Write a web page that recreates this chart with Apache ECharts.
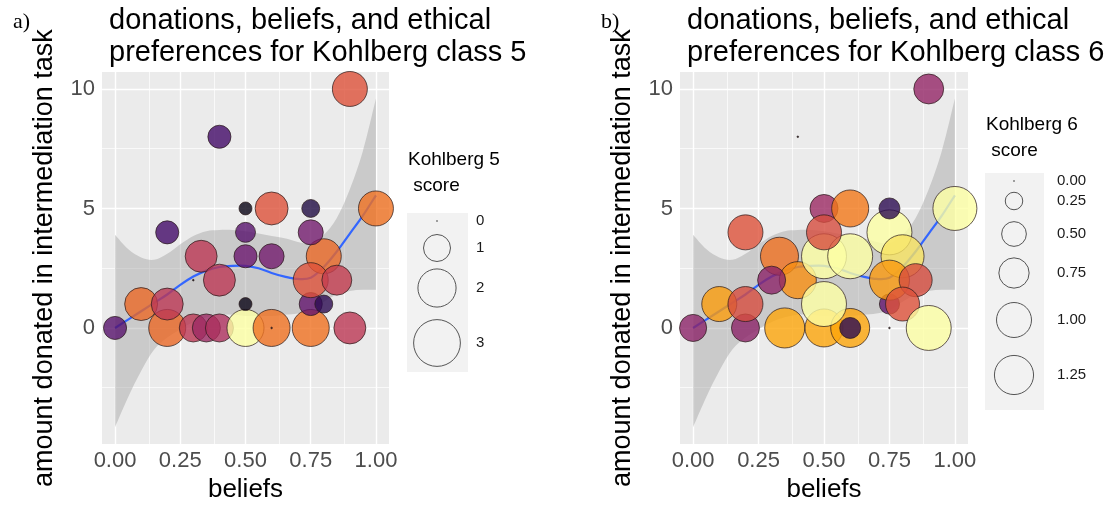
<!DOCTYPE html>
<html>
<head>
<meta charset="utf-8">
<script src="https://cdn.jsdelivr.net/npm/echarts@6/dist/echarts.min.js"></script>
<style>
  html, body { margin: 0; padding: 0; background: #fff; }
  #chart { width: 1114px; height: 508px; }
</style>
</head>
<body>
<div id="chart"></div>
<script>
// ---- data ----
// loess fit of donation on belief, with its confidence band (same in both panels)
var fitX   = [0, 0.05, 0.1, 0.15, 0.2, 0.25, 0.3, 0.35, 0.4, 0.45, 0.5, 0.55, 0.6, 0.65, 0.7, 0.75, 0.8, 0.85, 0.9, 0.95, 1.0];
var fitY   = [0, 0.35, 0.7, 1.05, 1.4, 1.8, 2.15, 2.4, 2.55, 2.6, 2.6, 2.5, 2.3, 2.15, 2.05, 2.1, 2.55, 3.2, 3.95, 4.7, 5.55];
var bandLo = [-4.15, -2.9, -1.8, -0.9, -0.4, -0.05, 0.25, 0.45, 0.55, 0.55, 0.5, 0.5, 0.5, 0.55, 0.6, 0.75, 1.1, 1.4, 1.55, 1.6, 1.6];
var bandHi = [3.9, 3.3, 2.95, 2.85, 3.1, 3.5, 3.85, 4.05, 4.1, 4.1, 4.05, 3.95, 3.85, 3.75, 3.6, 3.55, 3.9, 4.6, 5.8, 7.4, 9.6];

// panel a: Kohlberg class 5
var beliefA   = [0, 0.1, 0.2, 0.2, 0.2, 0.3, 0.35, 0.4, 0.3, 0.33, 0.4, 0.4, 0.5, 0.5, 0.5, 0.5, 0.5, 0.6, 0.6, 0.6, 0.6, 0.75, 0.75, 0.8, 0.8, 0.75, 0.85, 0.75, 0.75, 0.9, 0.9, 1.0];
var donatedA  = [0, 1, 0, 1, 4, 0, 0, 0, 2, 3, 2, 8, 0, 1, 3, 4, 5, 0, 0, 3, 5, 0, 1, 1, 3, 2, 2, 4, 5, 0, 10, 5];
var scoreA    = [0.73, 1.49, 1.88, 1.40, 0.73, 1.08, 1.08, 1.08, 0, 1.40, 1.40, 0.73, 1.88, 0.23, 0.73, 0.55, 0.23, 1.88, 0, 0.86, 1.49, 1.88, 0.73, 0.44, 1.68, 1.68, 1.23, 0.86, 0.44, 1.40, 1.68, 1.68];
var toneA     = [0.25, 0.66, 0.66, 0.5, 0.2, 0.5, 0.42, 0.46, 0, 0.5, 0.5, 0.2, 1.0, 0.03, 0.3, 0.25, 0.03, 0.68, 0.05, 0.32, 0.6, 0.68, 0.28, 0.15, 0.66, 0.6, 0.52, 0.32, 0.12, 0.5, 0.6, 0.68];

// panel b: Kohlberg class 6
var beliefB   = [0, 0.1, 0.2, 0.2, 0.2, 0.33, 0.4, 0.3, 0.35, 0.4, 0.5, 0.6, 0.6, 0.5, 0.5, 0.6, 0.5, 0.5, 0.6, 0.75, 0.75, 0.8, 0.75, 0.75, 0.85, 0.8, 0.75, 0.9, 0.9, 1.0];
var donatedB  = [0, 1, 0, 1, 4, 3, 2, 2, 0, 8, 0, 0, 0, 1, 3, 3, 5, 4, 5, 4, 5, 3, 1, 2, 2, 1, 0, 0, 10, 5];
var scoreB    = [0.6, 1.0, 0.64, 1.0, 1.0, 1.18, 1.12, 0.64, 1.31, 0, 1.18, 1.24, 0.36, 1.65, 1.65, 1.65, 0.64, 1.0, 1.12, 1.65, 0.36, 1.51, 0.33, 1.31, 0.89, 0.94, 0, 1.65, 0.73, 1.58];
var toneB     = [0.38, 0.78, 0.38, 0.58, 0.6, 0.68, 0.75, 0.38, 0.8, 0, 0.8, 0.8, 0.15, 1.0, 1.0, 1.0, 0.42, 0.58, 0.7, 1.0, 0.15, 0.93, 0.28, 0.77, 0.58, 0.6, 0, 1.0, 0.4, 1.0];

var beliefTicks = [0, 0.25, 0.5, 0.75, 1];
var beliefMinor = [0.125, 0.375, 0.625, 0.875];
var donatedTicks = [0, 5, 10];
var donatedMinor = [-2.5, 2.5, 7.5];
var legendA = [0, 1, 2, 3];
var legendB = [0, 0.25, 0.5, 0.75, 1.0, 1.25];

var inferno = ['#000004', '#160b39', '#420a68', '#6a176e', '#932667', '#bc3754',
               '#dd513a', '#f37819', '#fca50a', '#f6d746', '#fcffa4'];

var FONT = '"Liberation Sans", Arial, Helvetica, sans-serif';
var SERIF = '"Liberation Serif", "Times New Roman", serif';

// diameter scale per panel (px for a score of 1)
var sizeK = [27, 35];
function diam(k, v) { return v > 0 ? k * Math.sqrt(v) : 1.6; }

// layout
var grids = [
  { left: 102, top: 72, width: 287, height: 375 },
  { left: 680, top: 72, width: 288, height: 375 }
];

var myChart = echarts.init(document.getElementById('chart'), null, { renderer: 'canvas' });

function xAxisFor(i) {
  return {
    type: 'value', gridIndex: i, min: -0.05, max: 1.05,
    name: 'beliefs', nameLocation: 'middle', nameGap: 31,
    nameTextStyle: { fontSize: 26, color: '#000', fontFamily: FONT },
    axisLine: { show: false },
    axisTick: { show: true, customValues: beliefTicks, length: 4, lineStyle: { color: '#333', width: 1 } },
    axisLabel: { customValues: beliefTicks, formatter: function (v) { return v.toFixed(2); },
                 fontSize: 22, color: '#4d4d4d', margin: 6, fontFamily: FONT },
    splitLine: { show: false }
  };
}
function yAxisFor(i) {
  return {
    type: 'value', gridIndex: i, min: -4.86, max: 10.71,
    name: 'amount donated in intermediation task', nameLocation: 'middle', nameGap: 44,
    nameTextStyle: { fontSize: 27, color: '#000', fontFamily: FONT },
    axisLine: { show: false },
    axisTick: { show: true, customValues: donatedTicks, length: 4, lineStyle: { color: '#333', width: 1 } },
    axisLabel: { customValues: donatedTicks, fontSize: 22, color: '#4d4d4d', margin: 7, fontFamily: FONT },
    splitLine: { show: false }
  };
}

function gridLines(i) {
  var d = [];
  donatedTicks.forEach(function (v) { d.push({ yAxis: v, lineStyle: { color: '#fff', width: 1.4, type: 'solid' } }); });
  donatedMinor.forEach(function (v) { d.push({ yAxis: v, lineStyle: { color: '#fff', width: 0.7, type: 'solid' } }); });
  beliefTicks.forEach(function (v) { d.push({ xAxis: v, lineStyle: { color: '#fff', width: 1.4, type: 'solid' } }); });
  beliefMinor.forEach(function (v) { d.push({ xAxis: v, lineStyle: { color: '#fff', width: 0.7, type: 'solid' } }); });
  return {
    type: 'line', xAxisIndex: i, yAxisIndex: i, data: [], silent: true, z: 1,
    markLine: { silent: true, symbol: ['none', 'none'], label: { show: false }, animation: false,
                emphasis: { disabled: true }, data: d }
  };
}

// smooth path (Catmull-Rom as cubic beziers) through pixel points
function splineSeg(pts) {
  var s = '';
  for (var i = 0; i < pts.length - 1; i++) {
    var p0 = pts[i - 1] || pts[i], p1 = pts[i], p2 = pts[i + 1], p3 = pts[i + 2] || p2;
    var c1x = p1[0] + (p2[0] - p0[0]) / 6, c1y = p1[1] + (p2[1] - p0[1]) / 6;
    var c2x = p2[0] - (p3[0] - p1[0]) / 6, c2y = p2[1] - (p3[1] - p1[1]) / 6;
    s += ' C' + c1x + ',' + c1y + ' ' + c2x + ',' + c2y + ' ' + p2[0] + ',' + p2[1];
  }
  return s;
}

// confidence band + fitted curve, drawn once per panel through the axis scales
function smoothSeries(i) {
  return {
    type: 'custom', xAxisIndex: i, yAxisIndex: i, silent: true, z: 10, clip: true,
    data: fitX.map(function (x, j) { return [x, fitY[j], bandLo[j], bandHi[j]]; }),
    renderItem: function (params, api) {
      if (params.dataIndex !== 0) return;
      var up = [], lo = [], mid = [];
      for (var j = 0; j < fitX.length; j++) {
        up.push(api.coord([fitX[j], bandHi[j]]));
        lo.push(api.coord([fitX[j], bandLo[j]]));
        mid.push(api.coord([fitX[j], fitY[j]]));
      }
      lo.reverse();
      var band = 'M' + up[0][0] + ',' + up[0][1] + splineSeg(up) +
                 ' L' + lo[0][0] + ',' + lo[0][1] + splineSeg(lo) + ' Z';
      var line = 'M' + mid[0][0] + ',' + mid[0][1] + splineSeg(mid);
      return {
        type: 'group',
        children: [
          { type: 'path', shape: { pathData: band }, style: { fill: 'rgba(153,153,153,0.4)' } },
          { type: 'path', shape: { pathData: line }, style: { fill: 'none', stroke: '#3366ff', lineWidth: 2.2 } }
        ]
      };
    }
  };
}

function pointSeries(i, xs, ys, sc, tn) {
  var k = sizeK[i];
  return {
    type: 'scatter', xAxisIndex: i, yAxisIndex: i, z: 12, clip: true, silent: true,
    data: xs.map(function (x, j) { return [x, ys[j], sc[j], tn[j]]; }),
    symbolSize: function (val) { return diam(k, val[2]); },
    itemStyle: { opacity: 0.8, borderColor: '#2a1a1a', borderWidth: 0.9 }
  };
}

function legendGraphic(vals, k, box, cx, ys, labelX, digits, title, titleY) {
  var g = [];
  g.push({ type: 'text', left: box.x + 1, top: titleY,
           style: { text: title, font: '19px ' + FONT, fill: '#000', lineHeight: 26 } });
  g.push({ type: 'rect', shape: { x: box.x, y: box.y, width: box.w, height: box.h },
           style: { fill: '#f2f2f2' }, z: 0 });
  vals.forEach(function (v, j) {
    var r = diam(k, v) / 2;
    g.push({ type: 'circle', shape: { cx: cx, cy: ys[j], r: r },
             style: v > 0 ? { fill: 'rgba(255,255,255,0)', stroke: '#555', lineWidth: 1 } : { fill: '#333' }, z: 1 });
    g.push({ type: 'text', x: labelX, y: ys[j],
             style: { text: v.toFixed(digits), font: '15px ' + FONT, fill: '#1a1a1a', verticalAlign: 'middle' }, z: 1 });
  });
  return g;
}

var graphics = []
  .concat(legendGraphic(legendA, sizeK[0], { x: 407, y: 213, w: 61, h: 159 }, 437, [221, 248, 288, 343], 476, 0, 'Kohlberg 5\n score', 147))
  .concat(legendGraphic(legendB, sizeK[1], { x: 985, y: 173, w: 59, h: 237 }, 1014, [181, 201, 234, 273, 320, 375], 1057, 2, 'Kohlberg 6\n score', 112));

var option = {
  animation: false,
  backgroundColor: '#fff',
  title: [
    { text: 'a)', left: 8, top: 6, textStyle: { fontFamily: SERIF, fontSize: 22, fontWeight: 'normal', color: '#000' } },
    { text: 'donations, beliefs, and ethical\npreferences for Kohlberg class 5', left: 104, top: 0,
      textStyle: { fontFamily: FONT, fontSize: 29, fontWeight: 'normal', color: '#000', lineHeight: 32 } },
    { text: 'b)', left: 596, top: 6, textStyle: { fontFamily: SERIF, fontSize: 22, fontWeight: 'normal', color: '#000' } },
    { text: 'donations, beliefs, and ethical\npreferences for Kohlberg class 6', left: 682, top: 0,
      textStyle: { fontFamily: FONT, fontSize: 29, fontWeight: 'normal', color: '#000', lineHeight: 32 } }
  ],
  grid: grids.map(function (g) {
    return { left: g.left, top: g.top, width: g.width, height: g.height, show: true,
             backgroundColor: '#ebebeb', borderWidth: 0, containLabel: false };
  }),
  xAxis: [xAxisFor(0), xAxisFor(1)],
  yAxis: [yAxisFor(0), yAxisFor(1)],
  visualMap: [
    { type: 'continuous', show: false, seriesIndex: [2, 5], dimension: 3, min: 0, max: 1,
      inRange: { color: inferno } }
  ],
  series: [gridLines(0), smoothSeries(0), pointSeries(0, beliefA, donatedA, scoreA, toneA),
           gridLines(1), smoothSeries(1), pointSeries(1, beliefB, donatedB, scoreB, toneB)],
  graphic: graphics
};

myChart.setOption(option);
</script>
</body>
</html>
